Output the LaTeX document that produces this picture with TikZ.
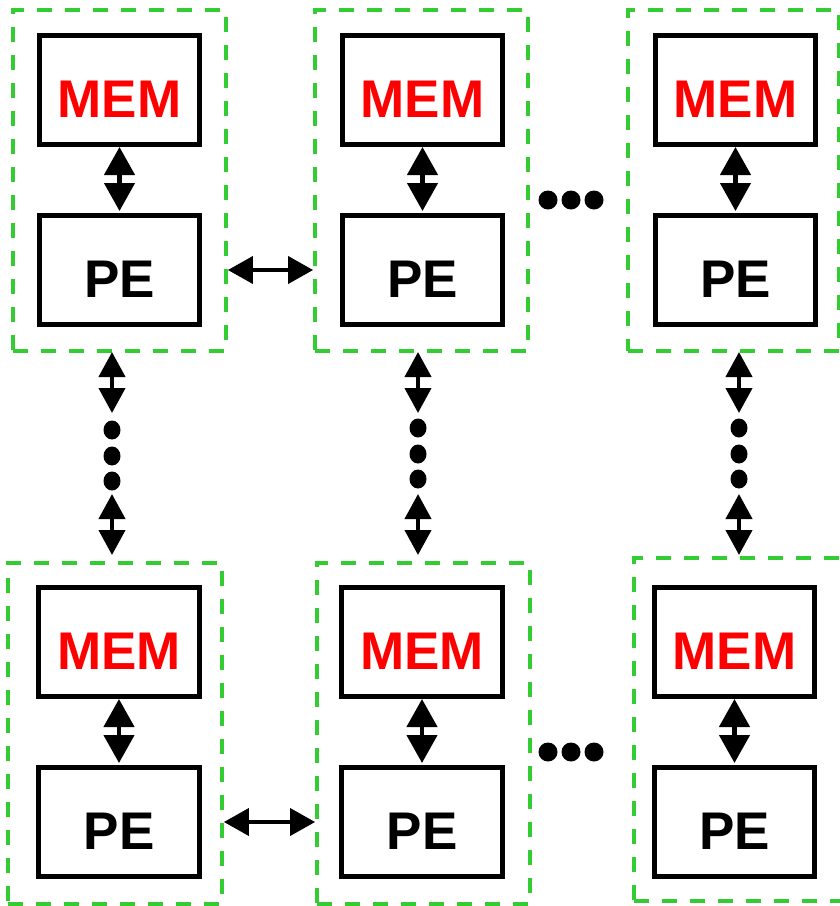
\documentclass[tikz,border=0pt]{standalone}
\usepackage{fontspec}
\setmainfont{Liberation Sans}
\usetikzlibrary{arrows.meta}
\definecolor{grpgreen}{RGB}{51,204,51}
\definecolor{memred}{RGB}{255,0,0}
\begin{document}
\begin{tikzpicture}[x=1pt,y=-1pt,
  grp/.style={draw=grpgreen, line width=3.8pt, dash pattern=on 15pt off 13pt, minimum width=213pt, minimum height=341pt, inner sep=0pt},
  unitbox/.style={draw=black, line width=5pt, minimum width=160.5pt, minimum height=109pt, inner sep=0pt,
    text height=55pt, text depth=0pt, font=\bfseries\fontsize{53}{60}\selectfont},
  membox/.style={unitbox, text=memred},
  pebox/.style={unitbox, text=black},
  inarrow/.style={line width=4.5pt, {Triangle[length=28pt,width=30pt]}-{Triangle[length=28pt,width=30pt]}},
  harrow/.style={line width=3.8pt, {Triangle[length=25pt,width=27pt]}-{Triangle[length=25pt,width=27pt]}},
  varrow/.style={line width=4.2pt, {Triangle[length=25pt,width=26pt]}-{Triangle[length=25pt,width=26pt]}},
  dot/.style={fill=black}
]
\clip (0,0) rectangle (840,906);
\fill[white] (0,0) rectangle (840,906);

% ---------- top row ----------
\node[grp] (g11) at (119.5,180.5) {};
\node[membox] (m11) at (119.5,90) {MEM};
\node[pebox]  (p11) at (119.5,270) {PE};

\node[grp] (g12) at (421.5,180.5) {};
\node[membox] (m12) at (422.5,90) {MEM};
\node[pebox]  (p12) at (422.5,270) {PE};

\node[grp, minimum width=211pt] (g13) at (733.5,180.5) {};
\node[membox] (m13) at (735.5,90) {MEM};
\node[pebox]  (p13) at (735.5,270) {PE};

% ---------- bottom row ----------
\node[grp, minimum width=214pt] (g21) at (115,733.5) {};
\node[membox] (m21) at (119,642) {MEM};
\node[pebox]  (p21) at (119,822) {PE};

\node[grp] (g22) at (423.5,733.5) {};
\node[membox] (m22) at (422,642) {MEM};
\node[pebox]  (p22) at (422,822) {PE};

\node[grp, minimum width=211pt, minimum height=343pt] (g23) at (739.5,729.5) {};
\node[membox] (m23) at (734.5,642) {MEM};
\node[pebox]  (p23) at (734.5,822) {PE};

% ---------- MEM <-> PE ----------
\foreach \m/\p in {m11/p11,m12/p12,m13/p13,m21/p21,m22/p22,m23/p23}
  \draw[inarrow, shorten >=2pt] (\m.south) -- (\p.north);

% ---------- horizontal PE links ----------
\draw[harrow] (g11.east |- p11.center) -- (g12.west |- p12.center);
\draw[harrow] (g21.east |- p21.center) -- (g22.west |- p22.center);

% ---------- vertical links ----------
\coordinate (a1t) at (112,352);  \coordinate (a1b) at (112,413);
\coordinate (b1t) at (112,494);  \coordinate (b1b) at (112,555);
\coordinate (a2t) at (418,352);  \coordinate (a2b) at (418,413);
\coordinate (b2t) at (418,494);  \coordinate (b2b) at (418,555);
\coordinate (a3t) at (739,352);  \coordinate (a3b) at (739,413);
\coordinate (b3t) at (739,494);  \coordinate (b3b) at (739,555);
\draw[varrow] (a1t) -- (a1b);
\draw[varrow] (b1t) -- (b1b);
\draw[varrow] (a2t) -- (a2b);
\draw[varrow] (b2t) -- (b2b);
\draw[varrow] (a3t) -- (a3b);
\draw[varrow] (b3t) -- (b3b);

% ---------- vertical dots ----------
\foreach \y in {430,456,481} \fill[dot] (112,\y) ellipse [x radius=8.5, y radius=9.5];
\foreach \y in {428,454,479} \fill[dot] (418,\y) ellipse [x radius=8.5, y radius=9.5];
\foreach \y in {428,454,479} \fill[dot] (739,\y) ellipse [x radius=8.5, y radius=9.5];

% ---------- horizontal dots ----------
\foreach \x in {548,571,594} \fill[dot] (\x,200) circle [radius=9.5];
\foreach \x in {548,571,594} \fill[dot] (\x,752) circle [radius=9.5];
\end{tikzpicture}
\end{document}
